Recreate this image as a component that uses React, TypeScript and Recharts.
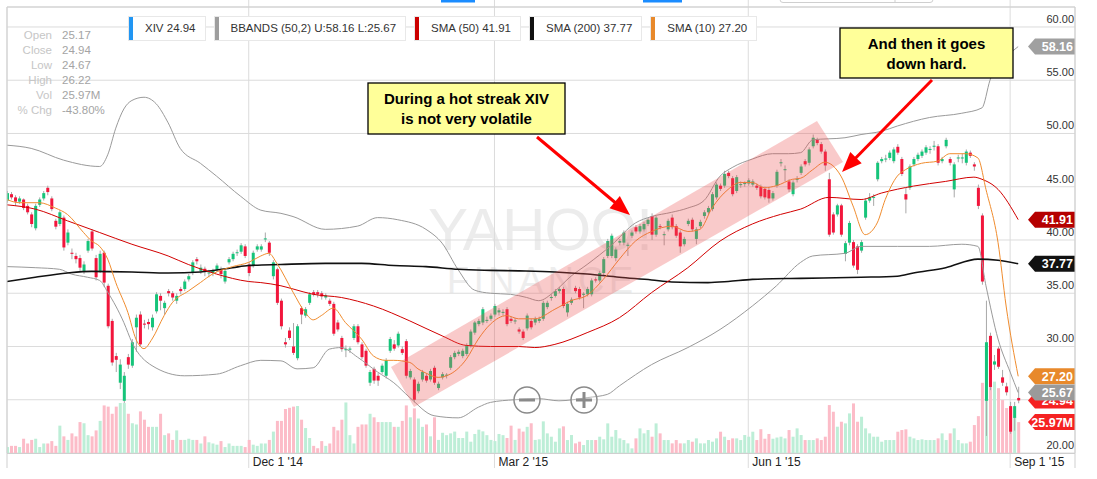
import React from "react";
import {
  ComposedChart,
  Bar,
  Line,
  XAxis,
  YAxis,
  CartesianGrid,
  ReferenceDot,
} from "recharts";

const FONT = "Arial, 'Liberation Sans', sans-serif";

// daily candles, Sep 2014 .. Sep 2015
const OPEN = [
  43.7, 44.3, 44.0, 43.6, 43.8, 43.2, 42.4, 41.1, 43.3, 43.9,
  44.9, 43.9, 41.8, 41.5, 42.1, 39.75, 38.8, 38.5, 38.3, 37.1,
  39.0, 40.8, 38.3, 37.1, 38.8, 35.7, 32.4, 29.1, 26.6, 24.9,
  29.0, 28.2, 31.8, 33.0, 32.15, 32.3, 31.8, 33.3, 34.75, 33.6,
  35.2, 35.0, 34.3, 35.4, 35.4, 36.3, 36.9, 38.2, 37.1, 37.3,
  36.9, 36.9, 37.2, 37.25, 36.1, 37.9, 38.2, 38.8, 38.9, 39.4,
  37.7, 37.6, 39.1, 39.1, 40.05, 39.75, 36.6, 37.25, 34.3, 30.4,
  31.5, 30.0, 28.9, 33.6, 32.9, 34.1, 35.1, 35.1, 35.0, 34.6,
  34.3, 34.0, 32.25, 30.8, 29.65, 29.7, 30.8, 31.9, 30.2, 29.6,
  26.6, 27.9, 27.25, 27.6, 27.25, 29.6, 30.2, 30.1, 29.75, 30.5,
  27.1, 26.9, 25.8, 26.9, 27.25, 26.9, 28.0, 26.1, 27.1, 27.25,
  28.0, 29.0, 29.3, 29.1, 29.3, 30.1, 31.3, 32.1, 32.25, 32.4,
  32.6, 33.0, 33.2, 33.15, 33.5, 32.6, 32.35, 31.6, 31.4, 31.7,
  32.4, 32.25, 32.4, 32.6, 33.7, 34.55, 34.75, 35.2, 35.4, 33.2,
  34.1, 35.5, 35.4, 34.85, 34.9, 34.9, 36.3, 36.2, 36.9, 38.5,
  38.5, 38.3, 39.75, 39.75, 39.45, 40.4, 41.2, 40.8, 41.0, 41.5,
  42.25, 40.5, 41.3, 40.45, 41.0, 42.1, 41.3, 40.7, 39.6, 41.5,
  41.9, 40.1, 41.3, 42.25, 42.6, 42.9, 44.0, 45.1, 45.1, 46.3,
  45.8, 44.6, 45.15, 45.25, 45.3, 45.2, 45.1, 45.0, 44.8, 44.7,
  43.9, 45.1, 47.2, 46.55, 45.5, 44.3, 45.65, 46.3, 47.4, 47.25,
  48.8, 49.4, 49.0, 48.3, 45.7, 42.4, 42.4, 43.25, 38.7, 39.75,
  39.8, 39.4, 39.0, 42.1, 43.7, 43.95, 45.7, 47.4, 47.55, 47.7,
  47.4, 48.75, 47.6, 44.3, 44.9, 47.1, 47.6, 47.9, 48.2, 48.45,
  48.75, 48.8, 47.4, 48.8, 47.6, 44.75, 47.65, 47.65, 47.25, 48.2,
  47.1, 44.9, 42.3, 24.9, 31.0, 28.3, 29.8, 27.1, 26.25, 24.4,
  23.3, 25.17,
];

const HIGH = [
  44.6, 44.5, 44.2, 44.1, 43.9, 43.4, 42.6, 43.4, 44.0, 44.6,
  45.1, 44.1, 42.0, 42.8, 42.3, 41.0, 39.2, 38.8, 38.6, 38.0,
  40.1, 41.0, 38.6, 39.0, 39.0, 35.9, 32.6, 29.4, 28.8, 27.6,
  29.3, 30.7, 33.0, 33.3, 32.5, 32.6, 33.0, 35.1, 35.0, 34.3,
  35.4, 35.2, 35.0, 35.6, 36.3, 36.8, 38.1, 38.4, 37.7, 37.5,
  37.2, 37.3, 37.8, 37.5, 37.3, 38.4, 38.9, 39.1, 39.7, 39.6,
  37.9, 39.0, 39.6, 39.6, 40.7, 39.9, 38.1, 37.4, 34.5, 30.8,
  31.8, 32.2, 32.1, 33.8, 33.7, 35.1, 35.3, 35.3, 35.2, 35.0,
  34.5, 34.2, 32.5, 31.0, 30.1, 30.0, 32.1, 32.1, 30.4, 29.8,
  27.8, 28.1, 27.5, 28.4, 28.9, 30.9, 30.6, 31.4, 30.0, 30.7,
  27.9, 27.1, 26.7, 27.8, 27.5, 27.9, 28.2, 26.7, 27.6, 27.5,
  29.2, 29.6, 29.7, 29.8, 30.3, 31.6, 32.4, 32.6, 33.7, 32.8,
  33.1, 34.0, 33.6, 33.5, 33.7, 32.8, 32.7, 31.8, 31.6, 33.1,
  32.6, 32.8, 32.8, 34.3, 34.3, 34.9, 35.4, 35.6, 35.6, 34.2,
  34.6, 35.7, 35.6, 35.1, 35.6, 36.4, 36.5, 37.1, 38.4, 40.1,
  40.6, 39.3, 40.1, 40.9, 39.75, 40.9, 41.4, 41.5, 41.7, 42.1,
  42.5, 42.3, 41.5, 40.8, 42.0, 42.4, 41.5, 40.9, 40.3, 42.0,
  42.1, 41.2, 41.9, 42.8, 43.2, 44.5, 45.4, 45.3, 46.5, 46.5,
  46.0, 46.1, 45.5, 45.5, 45.8, 45.7, 45.3, 45.2, 45.0, 44.9,
  44.6, 46.6, 47.6, 47.0, 45.7, 45.6, 46.0, 47.1, 47.6, 48.7,
  49.9, 49.6, 49.2, 48.5, 46.3, 42.6, 43.4, 43.4, 39.9, 41.8,
  40.0, 39.6, 40.0, 43.9, 44.4, 44.3, 47.4, 47.8, 48.0, 48.4,
  48.7, 49.0, 47.8, 44.9, 47.1, 47.8, 48.2, 48.5, 48.9, 48.8,
  49.3, 49.0, 47.8, 49.6, 47.8, 47.3, 48.0, 48.1, 48.5, 48.4,
  47.3, 45.2, 42.5, 34.3, 31.3, 29.2, 30.0, 27.8, 26.6, 24.8,
  24.8, 26.22,
];

const LOW = [
  43.5, 43.8, 43.2, 43.4, 42.8, 42.4, 41.2, 40.9, 43.1, 43.7,
  44.2, 42.7, 41.0, 41.3, 39.0, 39.5, 38.2, 37.8, 37.0, 36.8,
  38.8, 39.0, 36.2, 36.9, 35.6, 31.7, 28.2, 27.6, 26.0, 24.7,
  27.9, 28.0, 29.5, 30.0, 31.7, 31.6, 31.5, 33.1, 33.4, 33.0,
  34.7, 34.3, 34.0, 34.9, 35.2, 36.1, 36.7, 37.7, 36.8, 36.6,
  36.5, 36.6, 37.0, 36.4, 35.9, 37.7, 38.0, 38.5, 38.7, 38.3,
  36.6, 37.4, 38.9, 38.9, 39.8, 38.5, 36.3, 33.9, 31.6, 29.9,
  30.6, 29.2, 28.7, 32.1, 32.7, 33.9, 34.7, 34.6, 34.4, 34.4,
  33.8, 31.0, 31.4, 29.5, 29.0, 29.4, 30.6, 30.2, 28.8, 28.0,
  26.3, 26.5, 26.3, 27.4, 27.0, 29.4, 29.6, 29.9, 29.2, 27.0,
  26.9, 24.75, 25.6, 26.7, 26.6, 26.7, 26.4, 25.9, 26.9, 27.0,
  27.8, 28.8, 29.1, 28.9, 29.1, 29.9, 31.1, 31.9, 32.0, 32.2,
  32.4, 32.8, 32.9, 32.9, 31.9, 32.2, 32.1, 31.2, 30.6, 31.5,
  31.6, 32.0, 32.2, 32.4, 33.5, 34.3, 34.6, 35.0, 33.6, 32.8,
  33.9, 35.0, 34.4, 33.6, 34.7, 34.7, 36.0, 36.0, 36.7, 38.3,
  38.3, 38.0, 39.5, 39.5, 38.5, 40.2, 40.6, 40.6, 40.8, 41.3,
  40.0, 40.3, 41.0, 39.5, 40.8, 41.0, 40.2, 38.8, 39.4, 41.3,
  40.8, 39.6, 41.1, 42.0, 42.4, 42.7, 43.8, 44.6, 44.9, 45.8,
  44.1, 44.4, 44.9, 45.0, 45.1, 45.0, 44.7, 43.9, 43.8, 43.5,
  43.7, 44.9, 46.9, 45.5, 44.5, 44.1, 45.4, 46.1, 46.9, 47.0,
  48.6, 48.9, 48.1, 46.5, 40.3, 40.5, 42.2, 40.3, 38.0, 39.5,
  37.4, 36.8, 38.8, 41.9, 43.5, 43.2, 45.5, 47.2, 47.3, 47.5,
  47.2, 48.0, 46.0, 42.5, 44.7, 46.9, 47.4, 47.7, 48.0, 48.1,
  48.4, 47.0, 47.2, 48.6, 47.0, 44.0, 47.3, 47.2, 47.0, 47.7,
  46.5, 42.9, 35.8, 21.6, 25.9, 27.8, 27.9, 26.3, 25.4, 21.8,
  22.1, 24.67,
];

const CLOSE = [
  44.4, 44.0, 43.6, 43.9, 43.0, 42.6, 41.5, 43.2, 43.8, 44.4,
  44.5, 42.9, 41.25, 42.6, 39.3, 40.7, 38.7, 38.2, 37.4, 37.7,
  39.9, 39.2, 36.5, 38.7, 36.0, 31.9, 28.5, 28.75, 28.3, 27.25,
  28.3, 30.4, 32.7, 30.2, 32.05, 32.1, 32.7, 34.9, 34.3, 34.1,
  35.0, 34.6, 34.75, 35.2, 36.1, 36.6, 37.9, 38.0, 37.4, 37.0,
  36.95, 37.1, 37.6, 36.8, 37.1, 38.2, 38.7, 38.85, 39.5, 38.5,
  36.9, 38.8, 39.4, 39.4, 40.15, 38.8, 37.9, 34.1, 31.9, 30.2,
  30.8, 29.4, 31.9, 33.0, 33.5, 34.9, 34.9, 34.9, 34.7, 34.8,
  34.0, 31.2, 31.6, 29.75, 29.75, 29.8, 31.9, 30.4, 29.0, 28.2,
  27.6, 26.8, 26.8, 28.2, 28.7, 30.7, 29.8, 31.2, 29.4, 27.25,
  27.7, 25.0, 26.5, 27.6, 26.8, 27.7, 26.6, 26.5, 27.4, 27.35,
  29.0, 29.4, 29.5, 29.6, 30.1, 31.4, 32.25, 32.4, 33.5, 32.5,
  32.9, 33.8, 33.4, 33.25, 32.1, 32.4, 32.45, 31.4, 30.8, 32.9,
  31.8, 32.6, 32.6, 34.1, 34.1, 34.65, 35.2, 35.4, 33.8, 34.0,
  34.4, 35.2, 34.6, 34.95, 35.4, 36.2, 36.2, 36.9, 38.2, 39.9,
  40.4, 39.1, 39.9, 40.7, 39.55, 40.7, 40.8, 41.3, 41.5, 41.9,
  40.5, 42.1, 41.2, 40.55, 41.8, 41.2, 40.4, 39.4, 40.1, 41.8,
  41.0, 41.0, 41.7, 42.6, 43.0, 44.3, 45.2, 44.8, 46.2, 46.0,
  44.3, 45.9, 45.25, 45.35, 45.6, 45.5, 44.9, 44.1, 44.0, 43.9,
  44.4, 46.4, 47.3, 46.65, 44.75, 45.4, 45.75, 46.9, 47.1, 48.5,
  49.6, 49.1, 48.3, 47.0, 40.5, 40.7, 43.25, 40.5, 39.7, 41.6,
  37.6, 37.2, 39.8, 43.7, 44.0, 44.05, 47.25, 47.6, 47.65, 48.2,
  48.5, 48.2, 46.2, 43.8, 46.9, 47.6, 48.0, 48.3, 48.7, 48.55,
  48.85, 47.25, 47.6, 49.4, 47.25, 47.1, 47.75, 47.75, 48.3, 47.9,
  46.9, 43.2, 36.1, 30.4, 26.2, 28.6, 28.1, 26.6, 25.7, 22.0,
  24.4, 24.94,
];

// volume in millions
const VOLUME = [
  5, 6, 6, 5, 12, 8, 11, 12, 5, 8,
  8, 10, 6, 23, 14, 11, 16.5, 14, 26, 25,
  15, 14, 19, 27, 40, 39, 33, 39, 42, 42,
  33, 25, 24, 35, 28, 22, 22, 22, 33, 15,
  16.5, 11, 19, 11, 11, 12, 11, 11, 8, 14,
  9, 8, 7, 10, 5, 8, 6, 6, 6, 5,
  11, 7, 6, 8, 8, 11, 18, 27, 27, 37,
  38, 39, 39.5, 28, 21, 12.6, 6, 4, 10, 6,
  8, 22, 19, 28, 42.5, 15, 8, 22, 24, 24,
  33, 30, 26, 26, 26, 26, 22, 22, 27, 40,
  30, 37.5, 29, 22, 24, 14, 30, 11, 17, 15,
  16.5, 18, 12.6, 12.6, 18, 9.5, 16, 19.6, 18.2, 15,
  11, 10, 16, 15, 12.6, 23, 11, 20.5, 18, 22,
  25, 11, 11.5, 26.6, 16.5, 13.7, 9.5, 20.7, 22.4, 10.9,
  15.1, 8.1, 9.5, 6.7, 10.9, 10.9, 10.9, 13.7, 11.5, 24.9,
  13.7, 19.3, 12.3, 10.9, 8.1, 3.9, 12.3, 20.7, 16.5, 19.3,
  13.7, 24.9, 16.5, 10.9, 10.9, 8.1, 10.9, 8.1, 8.1, 10.9,
  9.5, 12.3, 8.1, 8.1, 10.9, 9.5, 12.3, 17.9, 13.7, 10.9,
  12.3, 12.3, 10.9, 15.1, 13.7, 17.9, 10.9, 20, 12, 16,
  12, 13, 13.7, 12.3, 19.3, 13.7, 20.7, 15.1, 10.9, 10.9,
  10.9, 12.3, 10.9, 13.7, 40.3, 34.7, 22.1, 26.3, 24.9, 33.3,
  41.7, 26.3, 30.5, 20.7, 16.5, 13.7, 13.7, 9.5, 10.9, 10.9,
  10.9, 17.9, 19.3, 19.9, 13.7, 12.3, 10.9, 11.5, 10.9, 10.9,
  10.9, 12.3, 16.5, 10.9, 16.5, 20.7, 10.9, 8.1, 8.1, 9.5,
  23.5, 31, 59, 91, 72.5, 60, 54.5, 44.5, 37.8, 39,
  30.5, 25.97,
];

// indicator lines, [day index, value]
const SMA10 = [
  [0, 43.8], [3, 43.5], [8, 43.5], [12, 43.0], [15, 42.4], [19, 40.7], [21, 39.9],
  [23, 39.4], [25, 38.2], [27, 36.0], [30, 33.2], [32, 30.7], [34, 29.8], [36, 30.7],
  [39, 32.9], [41, 34.1], [45, 35.2], [48, 36.0], [51, 36.8], [56, 37.5], [60, 37.9],
  [63, 38.5], [65, 38.75], [67, 37.8], [71, 35.1], [74, 33.2], [76, 32.5], [78, 32.9],
  [81, 33.6], [84, 32.25], [88, 30.7], [91, 29.1], [94, 28.7], [96, 28.7], [100, 28.5],
  [102, 27.9], [104, 27.5], [107, 27.1], [110, 27.4], [114, 28.8], [117, 30.7],
  [120, 32.1], [124, 32.9], [127, 32.6], [131, 32.6], [136, 33.5], [140, 34.3],
  [144, 34.8], [148, 36.3], [152, 38.2], [156, 39.9], [160, 40.8], [165, 41.3],
  [169, 40.8], [172, 41.0], [175, 43.0], [179, 44.75], [182, 45.4], [185, 45.4],
  [188, 44.9], [191, 45.1], [195, 45.7], [197, 45.8], [200, 46.6], [203, 47.3],
  [207, 46.0], [210, 43.2], [213, 40.5], [216, 41.6], [218, 43.8], [221, 46.0],
  [223, 46.6], [227, 47.2], [231, 47.4], [234, 48.1], [238, 48.1], [241, 47.7],
  [243, 44.75], [246, 39.75], [248, 33.8], [251, 27.2],
];

const SMA50 = [
  [0, 43.3], [7, 42.9], [15, 41.8], [23, 40.7], [31, 39.6], [40, 38.5], [45, 37.7],
  [52, 36.8], [60, 36.1], [63, 36.0], [68, 35.7], [71, 35.4], [76, 34.9], [83, 34.6],
  [91, 33.8], [100, 32.4], [108, 31.0], [114, 30.1], [120, 30.0], [127, 30.0],
  [131, 29.9], [136, 30.2], [144, 31.3], [152, 32.7], [160, 35.06], [169, 37.4],
  [177, 39.9], [185, 41.5], [192, 42.4], [197, 42.9], [204, 44.0], [212, 43.8],
  [217, 44.4], [225, 45.06], [233, 45.5], [240, 45.9], [242, 45.7], [246, 44.75],
  [251, 41.91],
];

const SMA200 = [
  [0, 36.1], [7, 36.5], [15, 36.9], [21, 37.05], [31, 37.0], [40, 36.9], [48, 37.0],
  [56, 37.4], [60, 37.6], [68, 37.7], [79, 37.8], [88, 37.8], [96, 37.6], [104, 37.5],
  [112, 37.25], [120, 37.15], [127, 37.1], [136, 37.0], [144, 36.8], [152, 36.5],
  [160, 36.25], [165, 36.06], [174, 36.0], [179, 36.1], [185, 36.3], [197, 36.4],
  [212, 36.5], [221, 36.6], [225, 36.9], [233, 37.4], [241, 38.2], [246, 38.1],
  [251, 37.77],
];

const BB_UPPER = [
  [0, 48.9], [6, 48.6], [14, 47.5], [23, 46.9], [25, 48.0], [27, 50.5], [29, 52.3],
  [31, 53.1], [34, 53.4], [37, 52.8], [40, 51.0], [43, 48.6], [48, 47.2], [52, 46.0],
  [58, 44.1], [63, 42.8], [68, 42.5], [71, 42.2], [79, 41.0], [87, 41.3], [92, 42.1],
  [97, 41.9], [104, 41.0], [108, 39.7], [112, 37.2], [116, 35.3], [120, 35.0],
  [125, 34.9], [129, 34.6], [132, 34.3], [136, 35.2], [140, 36.6], [144, 37.7],
  [150, 39.5], [156, 41.6], [160, 42.2], [165, 42.6], [169, 43.0], [173, 43.7],
  [177, 46.0], [180, 46.8], [185, 47.6], [190, 48.1], [194, 48.1], [197, 48.2],
  [200, 49.4], [208, 49.6], [212, 49.9], [217, 50.2], [221, 50.7], [229, 51.5],
  [237, 51.9], [242, 52.4], [244, 55.0], [245, 56.0], [248, 57.2], [251, 58.16],
];

const BB_LOWER = [
  [0, 37.5], [7, 37.4], [13, 37.25], [16, 36.8], [20, 36.5], [23, 36.2], [25, 35.1],
  [29, 32.25], [31, 30.4], [36, 28.2], [44, 27.25], [52, 27.4], [58, 28.2], [63, 28.7],
  [68, 28.65], [72, 27.9], [76, 28.0], [80, 29.75], [83, 29.9], [87, 29.0], [92, 27.6],
  [96, 26.6], [100, 25.2], [106, 23.5], [112, 23.3], [117, 24.3], [120, 24.75],
  [126, 25.0], [132, 25.1], [137, 24.9], [144, 25.2], [149, 25.5], [152, 26.3],
  [160, 28.3], [169, 29.9], [177, 31.6], [185, 33.8], [191, 35.7], [197, 37.9],
  [200, 38.5], [208, 38.75], [212, 39.4], [221, 39.4], [229, 39.4], [237, 39.6],
  [241, 39.4], [243, 35.7], [246, 30.7], [249, 27.6], [251, 25.67],
];

const DATE_TICKS = [60, 121, 184, 249];
const DATE_LABELS = ["Dec 1 '14", "Mar 2 '15", "Jun 1 '15", "Sep 1 '15"];
const PRICE_TICKS = [20, 25, 30, 35, 40, 45, 50, 55, 60];
// the 25.00 label sits under the last-price badges, so it is not drawn
const HIDDEN_PRICE_LABELS = [25];

const INFO_LABELS = ["Open", "Close", "Low", "High", "Vol", "% Chg"];
const INFO_VALUES = ["25.17", "24.94", "24.67", "26.22", "25.97M", "-43.80%"];

const LEGEND_NAMES = [
  "XIV 24.94",
  "BBANDS (50,2) U:58.16 L:25.67",
  "SMA (50) 41.91",
  "SMA (200) 37.77",
  "SMA (10) 27.20",
];
const LEGEND_COLORS = ["#2196f3", "#9e9e9e", "#cc0000", "#111111", "#e8892b"];

const PRICE_BADGES = [58.16, 41.91, 37.77, 27.2, 24.94, 25.67];
const PRICE_BADGE_COLORS = ["#a0a0a0", "#b50000", "#111111", "#e8892b", "#f52222", "#9a9a9a"];
const VOL_BADGE = 25.97;

const UP = "#16c47a";
const DOWN = "#f2163c";
const VOL_UP = "#bdeed7";
const VOL_DOWN = "#fcbcc8";

const data: any[] = OPEN.map((o, i) => ({
  i,
  o,
  h: HIGH[i],
  l: LOW[i],
  c: CLOSE[i],
  vol: VOLUME[i],
  range: [LOW[i], HIGH[i]],
}));
const addLine = (pts: number[][], key: string) => {
  pts.forEach(([idx, v]) => {
    data[idx][key] = v;
  });
};
addLine(SMA10, "sma10");
addLine(SMA50, "sma50");
addLine(SMA200, "sma200");
addLine(BB_UPPER, "bbUp");
addLine(BB_LOWER, "bbLo");

const Candle = (props: any) => {
  const { x, y, width, height, payload } = props;
  const { o, h, l, c } = payload;
  const cx = x + width / 2;
  const top = Math.min(y, y + height);
  const hgt = Math.abs(height);
  const k = h > l ? hgt / (h - l) : 0;
  const yo = top + (h - o) * k;
  const yc = top + (h - c) * k;
  const bodyTop = Math.min(yo, yc);
  const bodyH = Math.max(1, Math.abs(yo - yc));
  return (
    <g>
      <line x1={cx} x2={cx} y1={top} y2={top + hgt} stroke="#a8a8a8" strokeWidth={1} />
      <rect x={cx - 1.5} y={bodyTop} width={3} height={bodyH} fill={c >= o ? UP : DOWN} />
    </g>
  );
};

const VolBar = (props: any) => {
  const { x, y, width, height, payload } = props;
  const cx = x + width / 2;
  return (
    <rect
      x={cx - 1.5}
      y={Math.min(y, y + height)}
      width={3}
      height={Math.abs(height)}
      fill={payload.c >= payload.o ? VOL_UP : VOL_DOWN}
    />
  );
};

const DateTick = (props: any) => {
  const { x, payload } = props;
  const idx = DATE_TICKS.indexOf(payload.value);
  return (
    <g>
      <line x1={x} x2={x} y1={0} y2={7} stroke="#dcdcdc" />
      <line x1={x} x2={x} y1={453} y2={468} stroke="#dcdcdc" />
      <text x={x + 4} y={466} fontSize={12} fill="#222" fontFamily={FONT}>
        {DATE_LABELS[idx]}
      </text>
    </g>
  );
};

const PriceTick = (props: any) => {
  const { y, payload } = props;
  if (HIDDEN_PRICE_LABELS.includes(payload.value)) return <g />;
  return (
    <text x={1074} y={y - 4} textAnchor="end" fontSize={11} fill="#333" fontFamily={FONT}>
      {Number(payload.value).toFixed(2)}
    </text>
  );
};

const badge = (color: string, text: string) => (props: any) => {
  const { cx, cy } = props;
  const pts = `${cx - 47},${cy} ${cx - 40},${cy - 8} ${cx},${cy - 8} ${cx},${cy + 8} ${cx - 40},${cy + 8}`;
  return (
    <g>
      <polygon points={pts} fill={color} />
      <text
        x={cx - 2}
        y={cy + 4.5}
        textAnchor="end"
        fontSize={12.5}
        fontWeight="bold"
        fill="#fff"
        fontFamily={FONT}
      >
        {text}
      </text>
    </g>
  );
};

const arrowHead = (x1: number, y1: number, x2: number, y2: number) => {
  const dx = x2 - x1;
  const dy = y2 - y1;
  const len = Math.hypot(dx, dy);
  const ux = dx / len;
  const uy = dy / len;
  const bx = x2 - ux * 20;
  const by = y2 - uy * 20;
  return {
    base: [x2 - ux * 14, y2 - uy * 14],
    points: `${x2},${y2} ${bx - uy * 8},${by + ux * 8} ${bx + uy * 8},${by - ux * 8}`,
  };
};

const Arrow = ({ x1, y1, x2, y2 }: any) => {
  const a = arrowHead(x1, y1, x2, y2);
  return (
    <g>
      <line x1={x1} y1={y1} x2={a.base[0]} y2={a.base[1]} stroke="#ff0000" strokeWidth={3} />
      <polygon points={a.points} fill="#ff0000" />
    </g>
  );
};

const Overlay = () => (
  <svg
    width={1097}
    height={479}
    style={{ position: "absolute", left: 0, top: 0, pointerEvents: "none" }}
  >
    {/* frame */}
    <line x1={7} x2={1075} y1={7} y2={7} stroke="#cfcfcf" />
    <line x1={7} x2={1075} y1={453.5} y2={453.5} stroke="#cfcfcf" />
    <line x1={7} x2={7} y1={7} y2={468} stroke="#cfcfcf" />
    <line x1={1075} x2={1075} y1={7} y2={468} stroke="#cfcfcf" />
    {/* top tabs */}
    <rect x={441} y={0} width={34} height={2.5} fill="#1a8cff" />
    <rect x={643} y={0} width={39} height={2.5} fill="#1a8cff" />
    <rect x={780} y={-6} width={153} height={8.5} rx={3} fill="none" stroke="#cfcfcf" />
    <line x1={895} x2={895} y1={0} y2={2.5} stroke="#cfcfcf" />

    {/* info block */}
    {INFO_LABELS.map((lab, k) => (
      <g key={lab}>
        <text x={52} y={38.6 + k * 15} textAnchor="end" fontSize={11.5} fill="#c6c6c6" fontFamily={FONT}>
          {lab}
        </text>
        <text x={62} y={38.6 + k * 15} fontSize={11.5} fill="#a4a4a4" fontFamily={FONT}>
          {INFO_VALUES[k]}
        </text>
      </g>
    ))}

    {/* highlighted channel */}
    <polygon points="391,367 817,121 843,162 414,407" fill="rgba(235,80,80,0.3)" />

    {/* zoom buttons */}
    <circle cx={527} cy={400} r={13} fill="rgba(255,255,255,0.3)" stroke="#8a8a8a" strokeWidth={1.5} />
    <rect x={519} y={398.5} width={16} height={3} fill="#8a8a8a" />
    <circle cx={584} cy={400} r={13} fill="rgba(255,255,255,0.3)" stroke="#8a8a8a" strokeWidth={1.5} />
    <rect x={576} y={398.5} width={16} height={3} fill="#8a8a8a" />
    <rect x={582.5} y={392} width={3} height={16} fill="#8a8a8a" />

    {/* annotations */}
    <Arrow x1={537} y1={137} x2={630} y2={215} />
    <Arrow x1={932} y1={80} x2={842} y2={172} />
    <rect x={368} y={83} width={197} height={51} fill="#ffff99" stroke="#000" strokeWidth={1.3} />
    <text x={466.5} y={103.5} textAnchor="middle" fontSize={15} fontWeight="bold" fill="#000" fontFamily={FONT}>
      During a hot streak XIV
    </text>
    <text x={466.5} y={123.5} textAnchor="middle" fontSize={15} fontWeight="bold" fill="#000" fontFamily={FONT}>
      is not very volatile
    </text>
    <rect x={840} y={28} width={173} height={50} fill="#ffff99" stroke="#000" strokeWidth={1.3} />
    <text x={926.5} y={49} textAnchor="middle" fontSize={15} fontWeight="bold" fill="#000" fontFamily={FONT}>
      And then it goes
    </text>
    <text x={926.5} y={69} textAnchor="middle" fontSize={15} fontWeight="bold" fill="#000" fontFamily={FONT}>
      down hard.
    </text>
  </svg>
);

const Legend = () => (
  <div
    style={{
      position: "absolute",
      left: 128,
      top: 16,
      display: "flex",
      gap: 8,
      fontFamily: FONT,
      fontSize: 11.5,
      color: "#333",
    }}
  >
    {LEGEND_NAMES.map((name, k) => (
      <div
        key={name}
        style={{
          display: "flex",
          height: 23,
          lineHeight: "23px",
          border: "1px solid #e8e8e8",
          background: "#fff",
          whiteSpace: "nowrap",
        }}
      >
        <div style={{ width: 4, background: LEGEND_COLORS[k] }} />
        <div style={{ paddingLeft: 12, paddingRight: 9 }}>{name}</div>
      </div>
    ))}
  </div>
);

export default function App() {
  return (
    <div
      style={{
        position: "absolute",
        left: 0,
        top: 0,
        width: 1097,
        height: 479,
        background: "#fff",
        overflow: "hidden",
      }}
    >
      <svg width={1097} height={479} style={{ position: "absolute", left: 0, top: 0 }}>
        <text x={428} y={250} fontSize={60} textLength={225} fill="#ececec" fontFamily={FONT}>
          YAHOO!
        </text>
        <text x={447} y={293} fontSize={36} textLength={186} fill="#ededed" fontFamily={FONT}>
          FINANCE
        </text>
      </svg>
      <div style={{ position: "absolute", left: 0, top: 0 }}>
        <ComposedChart
          width={1097}
          height={479}
          data={data}
          margin={{ top: 7, right: 22, bottom: 0, left: 7 }}
        >
          <CartesianGrid stroke="#dcdcdc" yAxisId="p" />
          <XAxis
            dataKey="i"
            type="number"
            domain={[0, 265.1]}
            ticks={DATE_TICKS}
            interval={0}
            tick={<DateTick />}
            tickLine={false}
            axisLine={false}
            height={26}
            allowDataOverflow
          />
          <XAxis
            xAxisId="vx"
            dataKey="i"
            type="number"
            domain={[0, 265.1]}
            hide
            allowDataOverflow
          />
          <YAxis
            yAxisId="p"
            orientation="right"
            mirror
            domain={[20, 61.875]}
            ticks={PRICE_TICKS}
            interval={0}
            width={40}
            tick={<PriceTick />}
            tickLine={false}
            axisLine={false}
            allowDataOverflow
          />
          <YAxis yAxisId="v" domain={[0, 375]} hide allowDataOverflow />
          <Bar
            xAxisId="vx"
            yAxisId="v"
            dataKey="vol"
            barSize={3}
            shape={VolBar}
            isAnimationActive={false}
          />
          <Bar
            yAxisId="p"
            dataKey="range"
            barSize={3}
            shape={Candle}
            isAnimationActive={false}
          />
          <Line yAxisId="p" dataKey="bbUp" stroke="#9a9a9a" strokeWidth={1} dot={false} connectNulls type="monotone" isAnimationActive={false} />
          <Line yAxisId="p" dataKey="bbLo" stroke="#9a9a9a" strokeWidth={1} dot={false} connectNulls type="monotone" isAnimationActive={false} />
          <Line yAxisId="p" dataKey="sma200" stroke="#111" strokeWidth={1.6} dot={false} connectNulls type="monotone" isAnimationActive={false} />
          <Line yAxisId="p" dataKey="sma50" stroke="#d20000" strokeWidth={1} dot={false} connectNulls type="monotone" isAnimationActive={false} />
          <Line yAxisId="p" dataKey="sma10" stroke="#f08c2e" strokeWidth={1} dot={false} connectNulls type="monotone" isAnimationActive={false} />
          {PRICE_BADGES.map((v, k) => (
            <ReferenceDot
              key={k}
              yAxisId="p"
              x={265.1}
              y={v}
              r={0}
              ifOverflow="visible"
              shape={badge(PRICE_BADGE_COLORS[k], v.toFixed(2))}
            />
          ))}
          <ReferenceDot
            xAxisId="vx"
            yAxisId="v"
            x={265.1}
            y={VOL_BADGE}
            r={0}
            ifOverflow="visible"
            shape={badge("#f52222", VOL_BADGE.toFixed(2) + "M")}
          />
        </ComposedChart>
      </div>
      <Overlay />
      <Legend />
    </div>
  );
}
